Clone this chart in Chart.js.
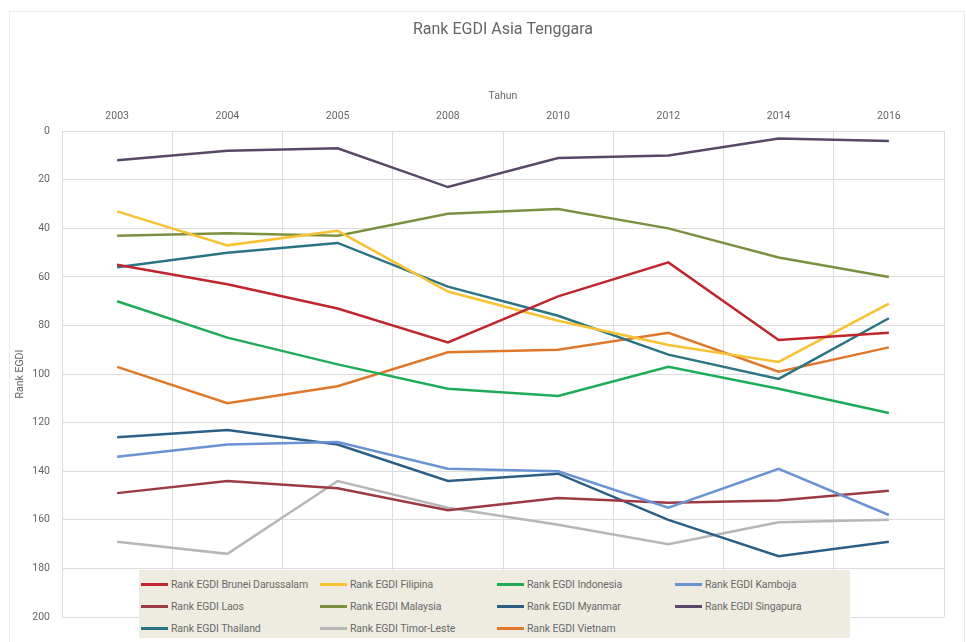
<!DOCTYPE html>
<html>
<head>
<meta charset="utf-8">
<script src="https://cdn.jsdelivr.net/npm/chart.js@4.4.1/dist/chart.umd.min.js"></script>
<style>
  html, body { margin: 0; padding: 0; background: #fff; }
  #wrap { position: relative; width: 966px; height: 642px; }
  #frame {
    position: absolute; left: 9px; top: 11px; width: 956px; height: 640px;
    border: 1px solid #ececec; box-sizing: border-box; pointer-events: none;
  }
  #legend {
    position: absolute; left: 139px; top: 570px; width: 711px; height: 68px;
    background: #eeece1; box-sizing: border-box; padding: 3px 0 0 2px;
    display: grid; grid-template-columns: 179px 177px 178px 177px; grid-auto-rows: 22px;
    font-family: "Roboto", sans-serif; font-size: 10.5px; color: #6a6a6a;
  }
  .item { display: flex; align-items: center; white-space: nowrap; letter-spacing: -0.1px; }
  .swatch { width: 27px; height: 3px; margin-right: 3px; }
</style>
</head>
<body>
<div id="wrap">
  <canvas id="rankChart" width="966" height="642"></canvas>
  <div id="frame"></div>
  <div id="legend"></div>
</div>
<script>
// ─── Data ─────────────────────────────────────────────────────────────────────
const YEARS = ['2003', '2004', '2005', '2008', '2010', '2012', '2014', '2016'];

const brunei    = [55, 63, 73, 87, 68, 54, 86, 83];
const filipina  = [33, 47, 41, 66, 78, 88, 95, 71];
const indonesia = [70, 85, 96, 106, 109, 97, 106, 116];
const kamboja   = [134, 129, 128, 139, 140, 155, 139, 158];
const laos      = [149, 144, 147, 156, 151, 153, 152, 148];
const malaysia  = [43, 42, 43, 34, 32, 40, 52, 60];
const myanmar   = [126, 123, 129, 144, 141, 160, 175, 169];
const singapura = [12, 8, 7, 23, 11, 10, 3, 4];
const thailand  = [56, 50, 46, 64, 76, 92, 102, 77];
const timor     = [169, 174, 144, 155, 162, 170, 161, 160];
const vietnam   = [97, 112, 105, 91, 90, 83, 99, 89];

const FONT = '"Roboto", sans-serif';
const TEXT = '#666666';
const GRID = '#dcdcdc';

const series = [
  { label: 'Rank EGDI Brunei Darussalam', data: brunei,    color: '#c0262d' },
  { label: 'Rank EGDI Filipina',          data: filipina,  color: '#f9c232' },
  { label: 'Rank EGDI Indonesia',         data: indonesia, color: '#1fac58' },
  { label: 'Rank EGDI Kamboja',           data: kamboja,   color: '#6a93d4' },
  { label: 'Rank EGDI Laos',              data: laos,      color: '#9c3a44' },
  { label: 'Rank EGDI Malaysia',          data: malaysia,  color: '#7c9140' },
  { label: 'Rank EGDI Myanmar',           data: myanmar,   color: '#2d5f86' },
  { label: 'Rank EGDI Singapura',         data: singapura, color: '#584a66' },
  { label: 'Rank EGDI Thailand',          data: thailand,  color: '#2a7486' },
  { label: 'Rank EGDI Timor-Leste',       data: timor,     color: '#b7b7b7' },
  { label: 'Rank EGDI Vietnam',           data: vietnam,   color: '#e0782c' }
];

// ─── Chart ────────────────────────────────────────────────────────────────────
const ctx = document.getElementById('rankChart').getContext('2d');

new Chart(ctx, {
  type: 'line',
  data: {
    labels: YEARS,
    datasets: series.map(s => ({
      label: s.label,
      data: s.data,
      borderColor: s.color,
      backgroundColor: s.color,
      borderWidth: 2.5,
      pointRadius: 0,
      tension: 0,
      fill: false
    }))
  },
  options: {
    responsive: false,
    animation: false,
    layout: { padding: { left: 0, right: 22, top: 0, bottom: 25 } },
    scales: {
      x: {
        position: 'top',
        offset: true,
        grid: { color: GRID, offset: true, drawTicks: false },
        border: { color: GRID },
        ticks: { font: { family: FONT, size: 10.5 }, color: TEXT, padding: 9 },
        title: {
          display: true, text: 'Tahun', color: TEXT,
          font: { family: FONT, size: 10.5 }, padding: { top: 3, bottom: 2 }
        },
        afterFit: (scale) => { scale.height = 44; }
      },
      y: {
        reverse: true,
        min: 0,
        max: 200,
        ticks: { stepSize: 20, font: { family: FONT, size: 10.5 }, color: TEXT, padding: 12 },
        grid: { color: GRID, drawTicks: false },
        border: { color: GRID },
        title: {
          display: true, text: 'Rank EGDI', color: TEXT,
          font: { family: FONT, size: 10.5 }, padding: { top: 14, bottom: 0 }
        },
        afterFit: (scale) => { scale.width = 62; }
      }
    },
    plugins: {
      legend: { display: false },
      tooltip: { enabled: false },
      title: {
        display: true,
        fullSize: false,
        text: 'Rank EGDI Asia Tenggara',
        color: TEXT,
        font: { family: FONT, size: 16, weight: 'normal' },
        padding: { top: 20, bottom: 48 }
      }
    }
  }
});

// ─── Legend (HTML, sits on the plot like the original) ────────────────────────
const legendEl = document.getElementById('legend');
series.forEach(s => {
  const item = document.createElement('div');
  item.className = 'item';
  item.innerHTML = `<span class="swatch" style="background:${s.color}"></span>${s.label}`;
  legendEl.appendChild(item);
});
</script>
</body>
</html>
